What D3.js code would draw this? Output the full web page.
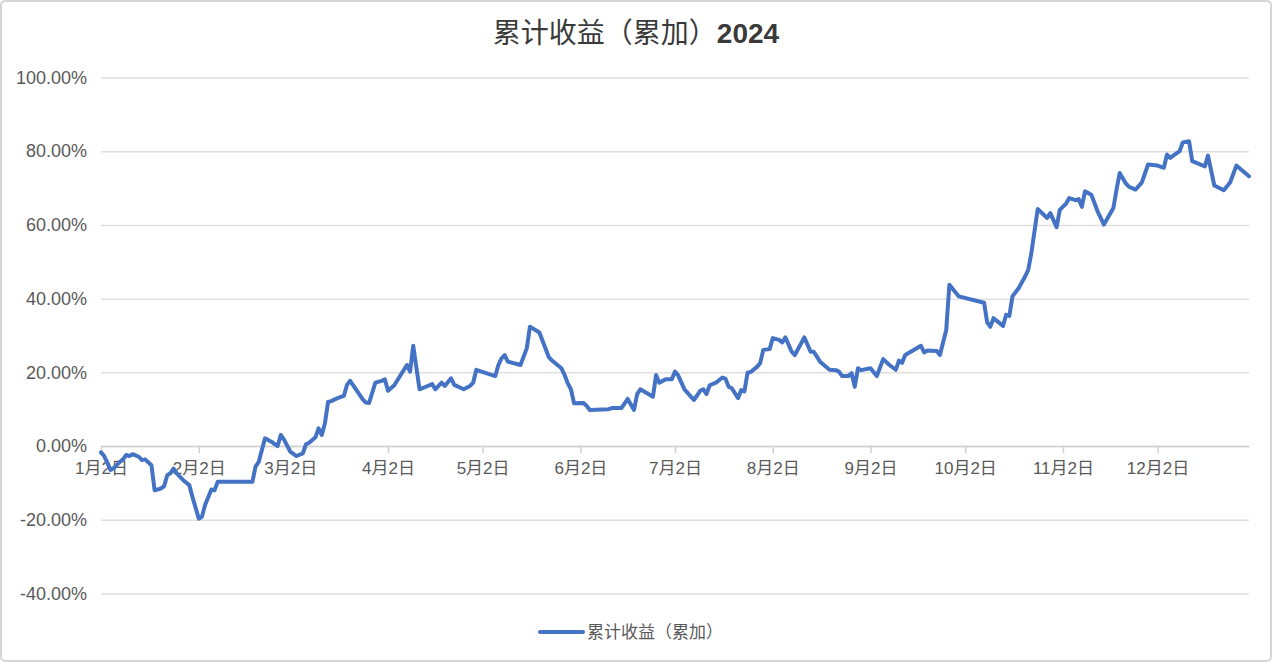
<!DOCTYPE html>
<html>
<head>
<meta charset="utf-8">
<script src="https://cdn.jsdelivr.net/npm/d3@7"></script>
<style>
  body { margin: 0; background: #fff; }
  svg { display: block; }
</style>
</head>
<body>
<svg id="chart" width="1272" height="662"></svg>
<script>
// values, cumulative return in percent
const dates = [
  "2024-01-02","2024-01-03","2024-01-04","2024-01-05","2024-01-06","2024-01-08","2024-01-09","2024-01-10",
  "2024-01-11","2024-01-12","2024-01-14","2024-01-15","2024-01-16","2024-01-18","2024-01-19","2024-01-21",
  "2024-01-22","2024-01-23","2024-01-24","2024-01-25","2024-01-26","2024-01-28","2024-01-30","2024-01-31",
  "2024-02-02","2024-02-03","2024-02-04","2024-02-06","2024-02-07","2024-02-08","2024-02-19","2024-02-20",
  "2024-02-21","2024-02-22","2024-02-23","2024-02-25","2024-02-27","2024-02-28","2024-02-29","2024-03-02",
  "2024-03-04","2024-03-06","2024-03-07","2024-03-08","2024-03-10","2024-03-11","2024-03-12","2024-03-13",
  "2024-03-14","2024-03-15","2024-03-17","2024-03-19","2024-03-20","2024-03-21","2024-03-23","2024-03-25",
  "2024-03-26","2024-03-27","2024-03-29","2024-03-31","2024-04-01","2024-04-02","2024-04-04","2024-04-06",
  "2024-04-08","2024-04-09","2024-04-10","2024-04-12","2024-04-14","2024-04-16","2024-04-17","2024-04-19",
  "2024-04-20","2024-04-22","2024-04-23","2024-04-26","2024-04-28","2024-04-29","2024-04-30","2024-05-06",
  "2024-05-07","2024-05-08","2024-05-09","2024-05-10","2024-05-14","2024-05-16","2024-05-17","2024-05-20",
  "2024-05-23","2024-05-24","2024-05-27","2024-05-28","2024-05-29","2024-05-30","2024-05-31","2024-06-03",
  "2024-06-04","2024-06-05","2024-06-11","2024-06-12","2024-06-15","2024-06-17","2024-06-19","2024-06-20",
  "2024-06-21","2024-06-25","2024-06-26","2024-06-27","2024-06-29","2024-07-01","2024-07-02","2024-07-03",
  "2024-07-05","2024-07-08","2024-07-10","2024-07-11","2024-07-12","2024-07-13","2024-07-15","2024-07-17",
  "2024-07-18","2024-07-19","2024-07-20","2024-07-22","2024-07-23","2024-07-24","2024-07-25","2024-07-26",
  "2024-07-28","2024-07-29","2024-07-30","2024-08-01","2024-08-02","2024-08-04","2024-08-05","2024-08-06",
  "2024-08-08","2024-08-09","2024-08-12","2024-08-14","2024-08-15","2024-08-17","2024-08-20","2024-08-22",
  "2024-08-23","2024-08-24","2024-08-26","2024-08-27","2024-08-28","2024-08-29","2024-08-30","2024-09-02",
  "2024-09-04","2024-09-06","2024-09-08","2024-09-10","2024-09-11","2024-09-12","2024-09-13","2024-09-18",
  "2024-09-19","2024-09-20","2024-09-23","2024-09-24","2024-09-26","2024-09-27","2024-09-30","2024-10-08",
  "2024-10-09","2024-10-10","2024-10-11","2024-10-14","2024-10-15","2024-10-16","2024-10-17","2024-10-19",
  "2024-10-21","2024-10-22","2024-10-23","2024-10-25","2024-10-28","2024-10-29","2024-10-31","2024-11-01",
  "2024-11-03","2024-11-04","2024-11-06","2024-11-07","2024-11-08","2024-11-09","2024-11-11","2024-11-13",
  "2024-11-15","2024-11-18","2024-11-19","2024-11-20","2024-11-22","2024-11-23","2024-11-25","2024-11-27",
  "2024-11-29","2024-12-02","2024-12-04","2024-12-05","2024-12-06","2024-12-09","2024-12-10","2024-12-12",
  "2024-12-13","2024-12-17","2024-12-18","2024-12-20","2024-12-23","2024-12-25","2024-12-27","2024-12-31"
];

const returns = [
  -1.7, -2.7, -4.5, -6.5, -6.0, -4.3, -3.6, -2.4,
  -2.7, -2.2, -2.9, -3.8, -3.6, -5.2, -12.0, -11.5,
  -10.9, -7.9, -7.4, -6.1, -7.4, -9.2, -10.6, -13.8,
  -19.7, -19.2, -16.0, -11.8, -12.0, -9.7, -9.7, -5.6,
  -4.3, -1.1, 2.1, 1.2, 0.0, 3.0, 1.8, -1.5,
  -2.7, -2.0, 0.5, 0.9, 2.4, 4.8, 3.0, 6.2,
  12.0, 12.2, 13.0, 13.6, 16.6, 17.7, 15.2, 12.7,
  11.8, 11.7, 17.2, 17.7, 18.1, 15.0, 16.5, 19.3,
  22.0, 20.2, 27.2, 15.4, 16.1, 16.8, 15.4, 17.2,
  16.3, 18.4, 16.6, 15.4, 16.3, 17.2, 20.7, 19.0,
  22.0, 23.8, 24.7, 22.9, 22.0, 26.5, 32.4, 30.8,
  24.1, 23.2, 21.1, 19.3, 17.0, 15.4, 11.6, 11.7,
  10.9, 9.8, 10.0, 10.3, 10.3, 12.8, 9.8, 14.1,
  15.4, 13.4, 19.3, 17.2, 18.1, 18.1, 20.2, 19.2,
  15.4, 12.5, 15.0, 15.4, 14.1, 16.5, 17.2, 18.6,
  18.3, 16.1, 15.7, 13.0, 15.2, 14.8, 19.9, 20.1,
  21.5, 22.5, 26.1, 26.3, 29.3, 28.8, 28.1, 29.5,
  25.6, 24.7, 29.5, 25.6, 25.6, 22.9, 20.7, 20.6,
  20.2, 19.0, 19.0, 19.8, 16.1, 21.1, 20.6, 21.1,
  19.0, 23.6, 22.0, 20.7, 23.2, 22.6, 24.7, 27.2,
  25.4, 25.9, 25.8, 24.7, 31.5, 43.8, 40.6, 38.9,
  33.5, 32.4, 34.7, 32.6, 35.6, 35.3, 40.6, 42.9,
  46.0, 47.8, 52.4, 64.3, 61.9, 63.2, 59.4, 64.1,
  65.8, 67.3, 66.7, 67.0, 64.9, 69.1, 68.2, 63.7,
  60.1, 64.6, 69.6, 74.1, 71.2, 70.3, 69.6, 71.5,
  76.4, 76.1, 75.5, 79.1, 78.2, 80.0, 82.4, 82.7,
  77.3, 75.9, 78.8, 70.7, 69.4, 71.5, 76.1, 73.2
];

const yTickValues = [-40, -20, 0, 20, 40, 60, 80, 100];
const xTickDates = [
  "2024-01-02","2024-02-02","2024-03-02","2024-04-02","2024-05-02","2024-06-02",
  "2024-07-02","2024-08-02","2024-09-02","2024-10-02","2024-11-02","2024-12-02"
];
const xDomain = ["2024-01-02", "2024-12-31"];

const titleText = "累计收益（累加）";
const titleYear = "2024";
const seriesName = "累计收益（累加）";

const lineColor = "#4472c4";
const gridColor = "#e0e0e0";
const axisColor = "#d0d0d0";
const labelColor = "#595959";
const titleColor = "#3a3a3a";
const fontFamily = "'Liberation Sans', 'Noto Sans CJK SC', sans-serif";

const svg = d3.select("#chart");
const width = 1272;
const height = 662;

const plotLeft = 101;
const plotRight = 1249;
const plotTop = 77.5;
const plotBottom = 593.5;

const parseDate = d3.timeParse("%Y-%m-%d");
const data = dates.map((d, i) => ({ date: parseDate(d), value: returns[i] }));

const x = d3.scaleTime()
    .domain(xDomain.map(parseDate))
    .range([plotLeft, plotRight]);
const y = d3.scaleLinear()
    .domain([-40, 100])
    .range([plotBottom, plotTop]);

// frame
svg.append("rect")
    .attr("x", 1).attr("y", 1)
    .attr("width", width - 2).attr("height", height - 2)
    .attr("rx", 4)
    .attr("fill", "#fff")
    .attr("stroke", "#d6d6d6")
    .attr("stroke-width", 2);

// title
const title = svg.append("text")
    .attr("x", width / 2)
    .attr("y", 43)
    .attr("text-anchor", "middle")
    .attr("font-family", fontFamily)
    .attr("font-size", 28)
    .attr("fill", titleColor);
title.append("tspan").text(titleText);
title.append("tspan").attr("font-weight", "bold").text(titleYear);

// y axis with gridlines
const yAxis = svg.append("g")
    .attr("transform", `translate(${plotLeft},0)`)
    .call(d3.axisLeft(y)
        .tickValues(yTickValues)
        .tickSize(-(plotRight - plotLeft))
        .tickPadding(14)
        .tickFormat(v => v.toFixed(2) + "%"));
yAxis.select(".domain").remove();
yAxis.selectAll(".tick line")
    .attr("stroke", gridColor)
    .attr("stroke-width", 1.5);
yAxis.selectAll(".tick text")
    .attr("fill", labelColor)
    .attr("font-family", fontFamily)
    .attr("font-size", 18);

// x axis on the zero line
const monthDay = d => `${d.getMonth() + 1}月${d.getDate()}日`;
const xAxis = svg.append("g")
    .attr("transform", `translate(0,${y(0)})`)
    .call(d3.axisBottom(x)
        .tickValues(xTickDates.map(parseDate))
        .tickSize(7)
        .tickSizeOuter(0)
        .tickPadding(9)
        .tickFormat(monthDay));
xAxis.select(".domain")
    .attr("stroke", axisColor)
    .attr("stroke-width", 1.5);
xAxis.selectAll(".tick line")
    .attr("stroke", axisColor)
    .attr("stroke-width", 1.5);
xAxis.selectAll(".tick text")
    .attr("fill", labelColor)
    .attr("font-family", fontFamily)
    .attr("font-size", 17);

// the series
const line = d3.line()
    .x(d => x(d.date))
    .y(d => y(d.value));

svg.append("path")
    .datum(data)
    .attr("fill", "none")
    .attr("stroke", lineColor)
    .attr("stroke-width", 4)
    .attr("stroke-linejoin", "round")
    .attr("stroke-linecap", "round")
    .attr("d", line);

// legend
const legend = svg.append("g")
    .attr("transform", "translate(540,632)");
legend.append("line")
    .attr("x1", 0).attr("x2", 43)
    .attr("y1", 0).attr("y2", 0)
    .attr("stroke", lineColor)
    .attr("stroke-width", 4)
    .attr("stroke-linecap", "round");
legend.append("text")
    .attr("x", 47)
    .attr("y", 0)
    .attr("dy", "0.35em")
    .attr("fill", labelColor)
    .attr("font-family", fontFamily)
    .attr("font-size", 17)
    .text(seriesName);
</script>
</body>
</html>
